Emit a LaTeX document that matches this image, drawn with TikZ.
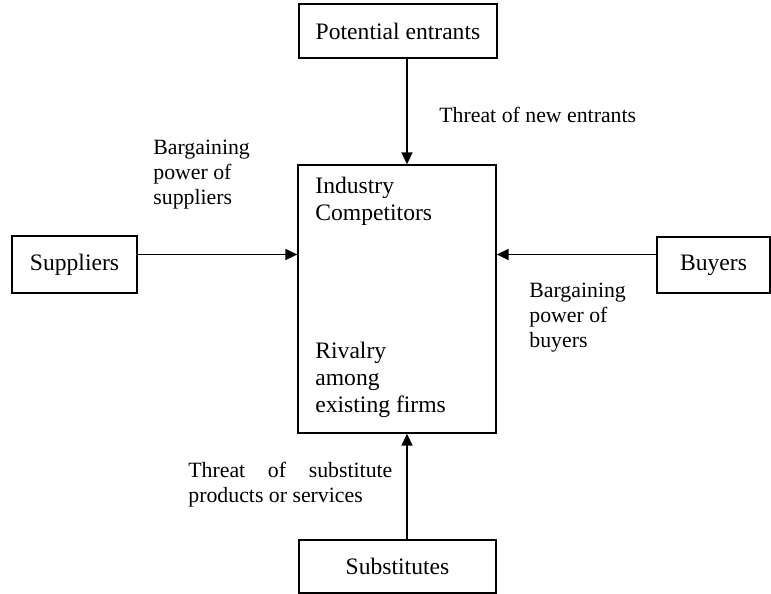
\documentclass[tikz,border=0pt]{standalone}
\usepackage{fontspec}
\setmainfont{Liberation Serif}
\usetikzlibrary{arrows.meta, positioning}

\tikzset{
  forcebox/.style={draw, line width=0.65pt, inner sep=0pt, font=\fontsize{11.8}{13.5}\selectfont},
  forcearrow/.style={line width=0.8pt, -{Triangle[length=6pt, width=5.5pt]}},
  forcelabel/.style={inner sep=0pt, align=left, font=\fontsize{10.9}{12.5}\selectfont},
}

\begin{document}
\begin{tikzpicture}[x=0.5pt, y=-0.5pt]

% Page frame
\useasboundingbox (0,0) rectangle (771,594);

% Boxes
\node[forcebox, minimum width=99pt, minimum height=27pt] (entrants) at (398,31) {Potential entrants};
\node[forcebox, minimum width=99pt, minimum height=134pt] (industry) at (397,299) {};
\node[forcebox, minimum width=62.5pt, minimum height=28.5pt] (suppliers) at (74.5,264.5) {Suppliers};
\node[forcebox, minimum width=56.5pt, minimum height=28pt] (buyers) at (713.5,265) {Buyers};
\node[forcebox, minimum width=98.5pt, minimum height=26.5pt] (substitutes) at (397.5,566.5) {Substitutes};

% Texts inside the industry box
\node[forcelabel, anchor=west, font=\fontsize{11.8}{13.5}\selectfont] (competitors) at (315,201.5) {Industry\\Competitors};
\node[forcelabel, anchor=west, font=\fontsize{11.8}{13.5}\selectfont] (rivalry) at (315,379.5) {Rivalry\\among\\existing firms};

% Axis the arrows run along
\coordinate (axis) at (407,254.5);

% Arrows
\draw[forcearrow] (entrants.south -| axis) -- (industry.north -| axis);
\draw[forcearrow] (suppliers.east |- axis) -- (industry.west |- axis);
\draw[forcearrow] (buyers.west |- axis) -- (industry.east |- axis);
\draw[forcearrow] (substitutes.north -| axis) -- (industry.south -| axis);

% Labels of the forces
\node[forcelabel, anchor=west] (newentrants) at (439,115) {Threat of new entrants};
\node[forcelabel, anchor=west] (supplierpower) at (153,175) {Bargaining\\power of\\suppliers};
\node[forcelabel, anchor=west] (buyerpower) at (529,318) {Bargaining\\power of\\buyers};
\node[forcelabel, anchor=west, text width=102pt, align=justify] (substitutethreat) at (188,484.5) {Threat of substitute\linebreak products or services};

\end{tikzpicture}
\end{document}
